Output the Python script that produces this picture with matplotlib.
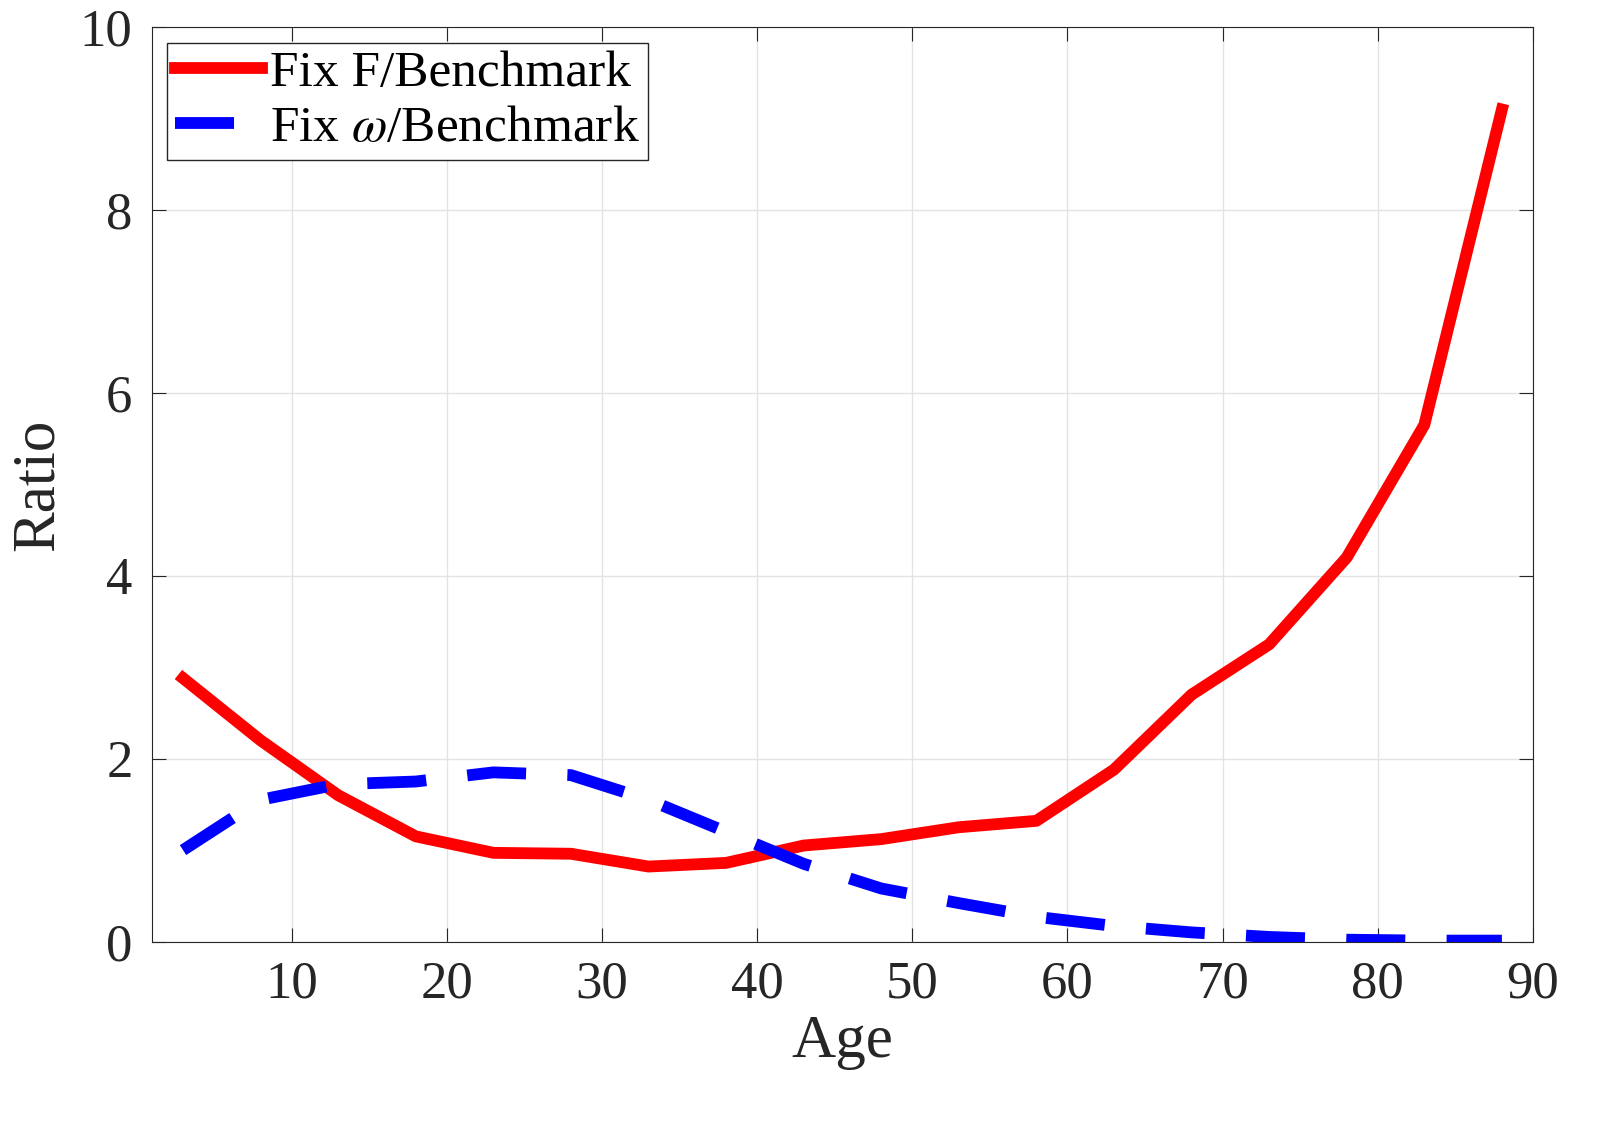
import numpy as np
import matplotlib
matplotlib.use('Agg')
import matplotlib.pyplot as plt

age = [3, 8, 13, 18, 23, 28, 33, 38, 43, 48, 53, 58, 63, 68, 73, 78, 83, 88]
fix_f = [2.88, 2.2, 1.6, 1.15, 0.97, 0.96, 0.82, 0.86, 1.05, 1.12, 1.25, 1.32,
         1.88, 2.7, 3.25, 4.2, 5.65, 9.1]
fix_w = [1.0, 1.55, 1.72, 1.75, 1.85, 1.82, 1.55, 1.2, 0.85, 0.58, 0.42, 0.27,
         0.17, 0.1, 0.05, 0.02, 0.01, 0.01]

plt.rcParams['font.family'] = ['Liberation Serif', 'DejaVu Serif']
plt.rcParams['mathtext.fontset'] = 'stix'

fig = plt.figure(figsize=(16.17, 11.33), dpi=100)
ax = fig.add_axes([0.094, 0.169, 0.854, 0.807])
ax.plot(age, fix_f, color='red', lw=8.5, label='Fix F/Benchmark')
ax.plot(age, fix_w, color='blue', lw=8.5, ls=(0, (5, 3.5)), label=r'Fix $\omega$/Benchmark')
ax.set_xlim(1, 90)
ax.set_ylim(0, 10)
ax.set_xticks(np.arange(10, 91, 10))
ax.set_yticks(np.arange(0, 11, 2))
ax.grid(True, color='#e3e3e3', lw=1)
ax.tick_params(direction='in', top=True, right=True, labelsize=38, length=10,
               colors='#262626', pad=14)
for s in ax.spines.values():
    s.set_color('#262626')
ax.set_xlabel('Age', fontsize=44, color='#262626', labelpad=4)
ax.set_ylabel('Ratio', fontsize=44, color='#262626', labelpad=10)
leg = ax.legend(loc='upper left', fontsize=37, fancybox=False, framealpha=1,
                edgecolor='#262626', handlelength=1.7, handletextpad=0.15,
                borderpad=0.15, labelspacing=0.15, borderaxespad=0.3)
fig.savefig('out.png')
